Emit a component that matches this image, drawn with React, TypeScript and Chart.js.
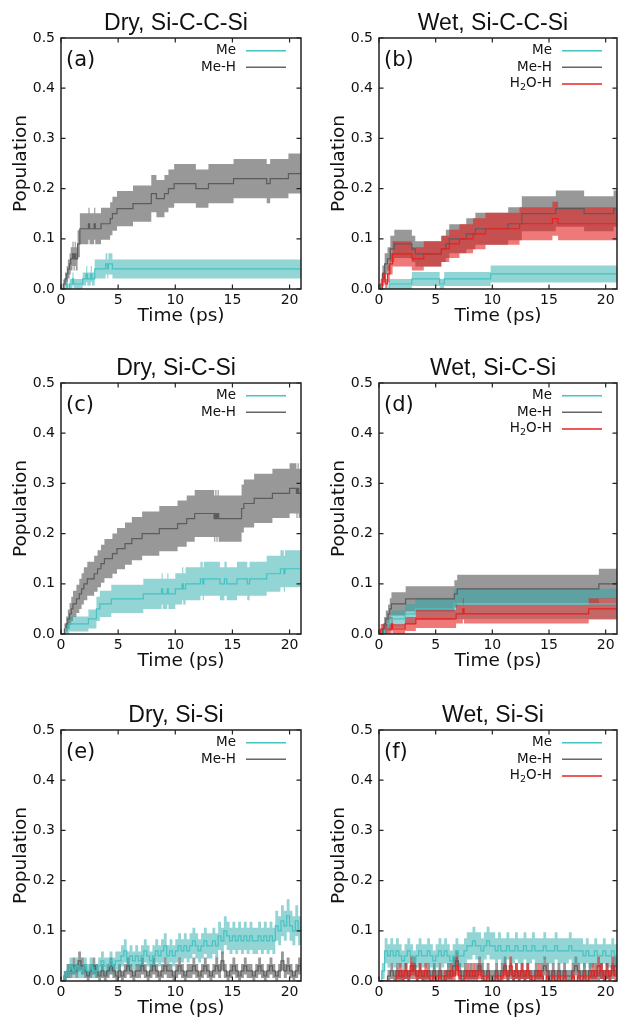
import React, { useEffect, useRef } from 'react';
import { Chart, registerables } from 'chart.js';

Chart.register(...registerables);

// ---------- axes ----------
const X_TICKS = [0, 5, 10, 15, 20];
const Y_TICKS = [0, 0.1, 0.2, 0.3, 0.4, 0.5];
const X_MAX = 21;
const Y_MAX = 0.5;

// ---------- (a) Dry, Si-C-C-Si ----------
const A_ME_T = [0, 0.45, 0.6, 0.75, 1.0, 1.1, 1.9, 2.2, 2.3, 2.6, 2.7, 2.95, 3.9, 4.05, 4.15, 4.5, 21];
const A_ME_V = [0, 0.01, 0, 0.01, 0.02, 0.01, 0.02, 0.03, 0.02, 0.03, 0.02, 0.04, 0.05, 0.04, 0.05, 0.04, 0.04];
const A_ME_E = [0, 0.01, 0, 0.01, 0.013, 0.01, 0.013, 0.016, 0.013, 0.016, 0.013, 0.019, 0.021, 0.019, 0.021, 0.019, 0.019];

const A_MEH_T = [0, 0.2, 0.35, 0.5, 0.6, 0.75, 0.85, 1.0, 1.1, 1.2, 1.3, 1.45, 1.65, 2.4, 2.5, 2.9, 3.0, 3.5, 4.3, 4.5, 4.9, 6.3, 7.9, 8.35, 9.05, 9.4, 9.9, 11.8, 12.9, 15.1, 18.0, 18.3, 19.9, 21];
const A_MEH_V = [0, 0.01, 0.02, 0.03, 0.04, 0.05, 0.06, 0.07, 0.06, 0.07, 0.06, 0.09, 0.12, 0.13, 0.12, 0.13, 0.12, 0.13, 0.14, 0.15, 0.16, 0.17, 0.19, 0.18, 0.19, 0.2, 0.21, 0.2, 0.21, 0.22, 0.21, 0.22, 0.23, 0.23];
const A_MEH_E = [0, 0.009, 0.013, 0.016, 0.019, 0.021, 0.023, 0.024, 0.023, 0.024, 0.023, 0.027, 0.031, 0.032, 0.031, 0.032, 0.031, 0.032, 0.033, 0.034, 0.035, 0.036, 0.037, 0.037, 0.037, 0.038, 0.039, 0.038, 0.039, 0.039, 0.039, 0.039, 0.04, 0.04];

// ---------- (b) Wet, Si-C-C-Si ----------
const B_ME_T = [0, 0.9, 2.9, 5.35, 5.75, 9.85, 21];
const B_ME_V = [0, 0.01, 0.02, 0.01, 0.02, 0.03, 0.03];
const B_ME_E = [0, 0.01, 0.014, 0.01, 0.014, 0.017, 0.017];

const B_MEH_T = [0, 0.15, 0.3, 0.5, 0.75, 1.0, 1.35, 2.9, 3.2, 5.5, 5.9, 6.2, 7.7, 8.5, 11.4, 12.6, 15.6, 18.1, 20.7, 21];
const B_MEH_V = [0, 0.01, 0.03, 0.05, 0.06, 0.08, 0.09, 0.08, 0.07, 0.08, 0.09, 0.1, 0.11, 0.12, 0.13, 0.15, 0.16, 0.15, 0.16, 0.16];
const B_MEH_E = [0, 0.01, 0.017, 0.021, 0.023, 0.026, 0.028, 0.026, 0.025, 0.026, 0.028, 0.029, 0.031, 0.032, 0.033, 0.035, 0.036, 0.035, 0.036, 0.036];

const B_H2O_T = [0, 0.3, 0.45, 0.55, 0.75, 0.95, 1.2, 2.9, 3.95, 5.5, 6.2, 7.1, 8.3, 9.4, 12.4, 15.3, 15.8, 21];
const B_H2O_V = [0, 0.02, 0.03, 0.01, 0.03, 0.05, 0.07, 0.06, 0.07, 0.08, 0.09, 0.1, 0.11, 0.12, 0.13, 0.14, 0.13, 0.13];
const B_H2O_E = [0, 0.014, 0.017, 0.01, 0.017, 0.021, 0.025, 0.023, 0.025, 0.026, 0.028, 0.029, 0.031, 0.032, 0.033, 0.034, 0.033, 0.033];

// ---------- (c) Dry, Si-C-Si ----------
const C_ME_T = [0, 0.4, 0.7, 2.4, 3.1, 3.4, 4.4, 7.2, 8.8, 8.9, 9.3, 9.4, 10.0, 10.6, 10.7, 10.9, 12.2, 12.4, 12.5, 13.9, 14.3, 14.5, 15.4, 16.3, 16.5, 18.0, 19.2, 19.5, 19.6, 21];
const C_ME_V = [0, 0.01, 0.02, 0.03, 0.05, 0.06, 0.07, 0.08, 0.09, 0.08, 0.09, 0.08, 0.09, 0.1, 0.09, 0.1, 0.11, 0.1, 0.11, 0.1, 0.11, 0.1, 0.11, 0.1, 0.11, 0.12, 0.13, 0.12, 0.13, 0.13];
const C_ME_E = [0, 0.011, 0.015, 0.019, 0.024, 0.026, 0.028, 0.03, 0.031, 0.03, 0.031, 0.03, 0.031, 0.033, 0.031, 0.033, 0.034, 0.033, 0.034, 0.033, 0.034, 0.033, 0.034, 0.033, 0.034, 0.036, 0.037, 0.036, 0.037, 0.037];

const C_MEH_T = [0, 0.3, 0.45, 0.6, 0.75, 0.9, 1.05, 1.35, 1.6, 1.8, 2.0, 2.3, 2.9, 3.2, 3.5, 3.8, 4.5, 4.9, 5.6, 6.2, 7.1, 8.6, 10.2, 11.0, 11.7, 13.4, 13.5, 13.6, 13.7, 13.8, 15.8, 16.0, 16.9, 18.5, 20.0, 20.6, 20.7, 20.8, 21];
const C_MEH_V = [0, 0.01, 0.02, 0.03, 0.04, 0.05, 0.06, 0.07, 0.08, 0.09, 0.1, 0.11, 0.12, 0.13, 0.14, 0.15, 0.16, 0.17, 0.18, 0.19, 0.2, 0.21, 0.22, 0.23, 0.24, 0.23, 0.24, 0.23, 0.24, 0.23, 0.25, 0.26, 0.27, 0.28, 0.29, 0.28, 0.29, 0.28, 0.28];
const C_MEH_E = [0, 0.011, 0.015, 0.019, 0.022, 0.024, 0.026, 0.028, 0.03, 0.031, 0.033, 0.034, 0.036, 0.037, 0.038, 0.039, 0.04, 0.041, 0.042, 0.043, 0.044, 0.045, 0.046, 0.046, 0.047, 0.046, 0.047, 0.046, 0.047, 0.046, 0.048, 0.048, 0.049, 0.049, 0.05, 0.049, 0.05, 0.049, 0.049];

// ---------- (d) Wet, Si-C-Si ----------
const D_ME_T = [0, 0.5, 0.8, 1.1, 2.3, 3.2, 6.6, 21];
const D_ME_V = [0, 0.01, 0.02, 0.03, 0.04, 0.05, 0.06, 0.06];
const D_ME_E = [0, 0.01, 0.014, 0.017, 0.02, 0.022, 0.03, 0.03];

const D_MEH_T = [0, 0.3, 0.45, 0.6, 0.8, 0.95, 1.1, 2.35, 6.65, 6.9, 19.4, 21];
const D_MEH_V = [0, 0.01, 0.02, 0.03, 0.04, 0.05, 0.06, 0.07, 0.08, 0.09, 0.1, 0.1];
const D_MEH_E = [0, 0.01, 0.014, 0.017, 0.019, 0.021, 0.023, 0.025, 0.027, 0.028, 0.03, 0.03];

const D_H2O_T = [0, 0.15, 1.1, 1.2, 2.3, 3.25, 6.8, 7.4, 7.5, 18.5, 21];
const D_H2O_V = [0, 0.01, 0.02, 0.01, 0.02, 0.03, 0.04, 0.05, 0.04, 0.05, 0.05];
const D_H2O_E = [0, 0.01, 0.014, 0.01, 0.014, 0.018, 0.019, 0.021, 0.019, 0.021, 0.021];

// ---------- (e), (f): sampled every 0.25 ps ----------
const NOISY_DT = 0.25;

const E_ME_V = [
  0, 0.01, 0.02, 0.03, 0.02, 0.03, 0.02, 0.02, 0.03, 0.02,
  0.03, 0.02, 0.02, 0.03, 0.04, 0.03, 0.03, 0.04, 0.03, 0.04,
  0.04, 0.05, 0.06, 0.04, 0.05, 0.04, 0.05, 0.04, 0.05, 0.06,
  0.05, 0.04, 0.05, 0.06, 0.05, 0.06, 0.07, 0.05, 0.06, 0.05,
  0.06, 0.07, 0.06, 0.07, 0.06, 0.07, 0.08, 0.07, 0.06, 0.07,
  0.08, 0.07, 0.07, 0.08, 0.07, 0.09, 0.08, 0.1, 0.09, 0.08,
  0.09, 0.08, 0.09, 0.08, 0.09, 0.08, 0.09, 0.08, 0.08, 0.09,
  0.08, 0.09, 0.08, 0.09, 0.08, 0.11, 0.1, 0.12, 0.11, 0.13,
  0.11, 0.1, 0.12, 0.1, 0.11,
];
const E_MEH_V = [
  0, 0.01, 0.02, 0.02, 0.03, 0.02, 0.04, 0.03, 0.02, 0.01,
  0.02, 0.03, 0.02, 0.01, 0.02, 0.01, 0.02, 0.03, 0.02, 0.01,
  0.02, 0.01, 0.02, 0.03, 0.02, 0.01, 0.02, 0.02, 0.03, 0.02,
  0.01, 0.02, 0.03, 0.02, 0.01, 0.02, 0.03, 0.02, 0.02, 0.01,
  0.02, 0.03, 0.02, 0.01, 0.02, 0.02, 0.03, 0.02, 0.01, 0.02,
  0.03, 0.02, 0.01, 0.02, 0.03, 0.02, 0.04, 0.02, 0.01, 0.02,
  0.03, 0.02, 0.01, 0.02, 0.03, 0.02, 0.02, 0.01, 0.02, 0.03,
  0.02, 0.01, 0.02, 0.03, 0.02, 0.01, 0.02, 0.04, 0.02, 0.03,
  0.02, 0.01, 0.02, 0.03, 0.02,
];
// half-width of the band for each population level 0.00, 0.01, 0.02, ...
const E_ERR_BY_LEVEL = [0, 0.01, 0.014, 0.017, 0.019, 0.021, 0.023, 0.025, 0.026, 0.028, 0.029, 0.03, 0.031, 0.033];

const F_ME_V = [
  0, 0.02, 0.06, 0.05, 0.06, 0.05, 0.06, 0.05, 0.04, 0.05,
  0.06, 0.05, 0.04, 0.05, 0.06, 0.05, 0.05, 0.06, 0.05, 0.04,
  0.05, 0.06, 0.05, 0.06, 0.05, 0.04, 0.05, 0.06, 0.05, 0.05,
  0.06, 0.07, 0.07, 0.08, 0.07, 0.07, 0.06, 0.07, 0.08, 0.07,
  0.07, 0.06, 0.07, 0.06, 0.06, 0.07, 0.06, 0.06, 0.07, 0.06,
  0.06, 0.07, 0.06, 0.06, 0.07, 0.06, 0.06, 0.06, 0.07, 0.06,
  0.06, 0.06, 0.07, 0.06, 0.06, 0.06, 0.06, 0.07, 0.06, 0.06,
  0.06, 0.06, 0.05, 0.06, 0.05, 0.05, 0.06, 0.05, 0.05, 0.06,
  0.05, 0.05, 0.06, 0.05, 0.05,
];
const F_MEH_V = [
  0, 0, 0, 0.01, 0.02, 0.01, 0.02, 0.01, 0.01, 0.02,
  0.01, 0.02, 0.03, 0.01, 0.02, 0.01, 0.01, 0.02, 0.01, 0.02,
  0.01, 0.02, 0.01, 0.01, 0.02, 0.01, 0.03, 0.04, 0.02, 0.01,
  0.02, 0.01, 0.02, 0.01, 0.02, 0.03, 0.02, 0.01, 0.02, 0.01,
  0.01, 0.02, 0.01, 0.02, 0.03, 0.01, 0.02, 0.01, 0.02, 0.01,
  0.02, 0.01, 0.02, 0.01, 0.01, 0.02, 0.01, 0.02, 0.03, 0.02,
  0.01, 0.02, 0.01, 0.02, 0.01, 0.02, 0.01, 0.01, 0.02, 0.03,
  0.02, 0.01, 0.02, 0.01, 0.02, 0.01, 0.02, 0.01, 0.02, 0.01,
  0.02, 0.01, 0.02, 0.03, 0.02,
];
const F_H2O_V = [
  0, 0, 0, 0, 0, 0, 0.01, 0.02, 0.01, 0.02,
  0.01, 0.03, 0.02, 0.01, 0.02, 0.01, 0.02, 0.01, 0, 0.01,
  0, 0.01, 0, 0.01, 0.01, 0.02, 0.01, 0.03, 0.01, 0,
  0.01, 0.02, 0.01, 0.02, 0.01, 0.02, 0.01, 0, 0.01, 0,
  0, 0.01, 0, 0.01, 0.02, 0.01, 0.03, 0.01, 0.02, 0.01,
  0.02, 0.01, 0.02, 0.01, 0, 0.01, 0.02, 0.01, 0, 0.01,
  0, 0.01, 0, 0.01, 0, 0.01, 0, 0, 0.01, 0,
  0.01, 0, 0.01, 0, 0.01, 0.02, 0.01, 0.03, 0.02, 0.01,
  0.02, 0.01, 0.03, 0.01, 0.02,
];
const F_ERR_BY_LEVEL = [0, 0.012, 0.016, 0.019, 0.021, 0.023, 0.025, 0.027, 0.028];

// ---------- styles ----------
type Key = 'me' | 'meh' | 'h2o';
const STYLE: Record<Key, { line: string; band: string; legend: string; bandOrder: number; lineOrder: number }> = {
  meh: { line: '#5c5c5c', band: 'rgba(50,50,50,0.5)', legend: '#666666', bandOrder: 6, lineOrder: 3 },
  me: { line: '#45c3c3', band: 'rgba(40,170,170,0.5)', legend: '#45c3c3', bandOrder: 5, lineOrder: 2 },
  h2o: { line: '#e82222', band: 'rgba(228,30,30,0.6)', legend: '#e82222', bandOrder: 4, lineOrder: 1 },
};
const TEXT = '#111111';
const FRAME = '#222222';

type Series = { key: Key; t: number[]; v: number[]; e: number[] };

const step = (key: Key, t: number[], v: number[], e: number[]): Series => ({ key, t, v, e });
const sampled = (key: Key, v: number[], errByLevel: number[]): Series => ({
  key,
  t: v.map((_, i) => i * NOISY_DT),
  v,
  e: v.map((x) => errByLevel[Math.round(x * 100)] ?? errByLevel[errByLevel.length - 1]),
});

type PanelCfg = { id: string; title: string; left: number; top: number; width: number; series: Series[] };

const PLOT_H = 251;

const PANELS: PanelCfg[] = [
  { id: 'a', title: 'Dry, Si-C-C-Si', left: 61, top: 38, width: 240,
    series: [step('me', A_ME_T, A_ME_V, A_ME_E), step('meh', A_MEH_T, A_MEH_V, A_MEH_E)] },
  { id: 'b', title: 'Wet, Si-C-C-Si', left: 379, top: 38, width: 238,
    series: [step('me', B_ME_T, B_ME_V, B_ME_E), step('meh', B_MEH_T, B_MEH_V, B_MEH_E), step('h2o', B_H2O_T, B_H2O_V, B_H2O_E)] },
  { id: 'c', title: 'Dry, Si-C-Si', left: 61, top: 383, width: 240,
    series: [step('me', C_ME_T, C_ME_V, C_ME_E), step('meh', C_MEH_T, C_MEH_V, C_MEH_E)] },
  { id: 'd', title: 'Wet, Si-C-Si', left: 379, top: 383, width: 238,
    series: [step('me', D_ME_T, D_ME_V, D_ME_E), step('meh', D_MEH_T, D_MEH_V, D_MEH_E), step('h2o', D_H2O_T, D_H2O_V, D_H2O_E)] },
  { id: 'e', title: 'Dry, Si-Si', left: 61, top: 730, width: 240,
    series: [sampled('me', E_ME_V, E_ERR_BY_LEVEL), sampled('meh', E_MEH_V, E_ERR_BY_LEVEL)] },
  { id: 'f', title: 'Wet, Si-Si', left: 379, top: 730, width: 238,
    series: [sampled('me', F_ME_V, F_ERR_BY_LEVEL), sampled('meh', F_MEH_V, F_ERR_BY_LEVEL), sampled('h2o', F_H2O_V, F_ERR_BY_LEVEL)] },
];

// canvas margins around the plot area
const M_LEFT = 61;
const M_TOP = 38;
const M_RIGHT = 3;
const M_BOTTOM = 40;

function buildDatasets(series: Series[]) {
  const ds: any[] = [];
  for (const s of series) {
    const st = STYLE[s.key];
    const hi = s.t.map((x, i) => ({ x, y: Math.min(Y_MAX, s.v[i] + s.e[i]) }));
    const lo = s.t.map((x, i) => ({ x, y: Math.max(0, s.v[i] - s.e[i]) }));
    ds.push({
      data: hi, stepped: true, pointRadius: 0, borderWidth: 0, borderColor: 'transparent',
      backgroundColor: st.band, fill: '+1', order: st.bandOrder,
    });
    ds.push({
      data: lo, stepped: true, pointRadius: 0, borderWidth: 0, borderColor: 'transparent',
      backgroundColor: 'transparent', fill: false, order: st.bandOrder,
    });
  }
  for (const s of series) {
    const st = STYLE[s.key];
    ds.push({
      data: s.t.map((x, i) => ({ x, y: s.v[i] })), stepped: true, pointRadius: 0,
      borderWidth: 1.2, borderColor: st.line, fill: false, order: st.lineOrder,
    });
  }
  return ds;
}

function decorPlugin(p: PanelCfg) {
  return {
    id: 'decor_' + p.id,
    afterDraw(chart: any) {
      const { ctx, chartArea } = chart;
      const { left, right, top, bottom } = chartArea;
      const xs = chart.scales.x;
      const ys = chart.scales.y;
      const TL = 4.5;
      ctx.save();
      // frame
      ctx.strokeStyle = FRAME;
      ctx.lineWidth = 1.5;
      ctx.strokeRect(left, top, right - left, bottom - top);
      // inward ticks on all sides
      ctx.lineWidth = 1.2;
      ctx.beginPath();
      for (const v of X_TICKS) {
        const x = xs.getPixelForValue(v);
        ctx.moveTo(x, bottom); ctx.lineTo(x, bottom - TL);
        ctx.moveTo(x, top); ctx.lineTo(x, top + TL);
      }
      for (const v of Y_TICKS) {
        const y = ys.getPixelForValue(v);
        ctx.moveTo(left, y); ctx.lineTo(left + TL, y);
        ctx.moveTo(right, y); ctx.lineTo(right - TL, y);
      }
      ctx.stroke();

      ctx.fillStyle = TEXT;
      // title
      ctx.font = '23px "Liberation Sans", Arial, sans-serif';
      ctx.textAlign = 'center';
      ctx.textBaseline = 'alphabetic';
      ctx.fillText(p.title, (left + right) / 2 - 5, top - 8);
      // panel letter
      ctx.font = '21px "DejaVu Sans", sans-serif';
      ctx.textAlign = 'left';
      ctx.fillText('(' + p.id + ')', left + 5, top + 28);
      // legend
      const base = '13.5px "DejaVu Sans", sans-serif';
      const sub = '9.5px "DejaVu Sans", sans-serif';
      ctx.textBaseline = 'middle';
      p.series.forEach((s, i) => {
        const y = top + 12.7 + i * 16.6;
        const tx = right - 65;
        ctx.fillStyle = TEXT;
        if (s.key === 'h2o') {
          ctx.font = base;
          const wH = ctx.measureText('H').width;
          const wO = ctx.measureText('O-H').width;
          ctx.font = sub;
          const w2 = ctx.measureText('2').width;
          let x0 = tx - (wH + w2 + wO);
          ctx.textAlign = 'left';
          ctx.font = base;
          ctx.fillText('H', x0, y);
          x0 += wH;
          ctx.font = sub;
          ctx.fillText('2', x0, y + 4);
          x0 += w2;
          ctx.font = base;
          ctx.fillText('O-H', x0, y);
        } else {
          ctx.font = base;
          ctx.textAlign = 'right';
          ctx.fillText(s.key === 'me' ? 'Me' : 'Me-H', tx, y);
        }
        ctx.strokeStyle = STYLE[s.key].legend;
        ctx.lineWidth = 1.5;
        ctx.beginPath();
        ctx.moveTo(right - 55, y);
        ctx.lineTo(right - 15, y);
        ctx.stroke();
      });
      // axis titles
      ctx.fillStyle = TEXT;
      ctx.font = '18.5px "DejaVu Sans", sans-serif';
      ctx.textAlign = 'center';
      ctx.textBaseline = 'alphabetic';
      ctx.fillText('Time (ps)', (left + right) / 2, bottom + 32);
      ctx.translate(left - 35, (top + bottom) / 2);
      ctx.rotate(-Math.PI / 2);
      ctx.fillText('Population', 0, 0);
      ctx.restore();
    },
  };
}

function Panel({ p }: { p: PanelCfg }) {
  const ref = useRef<HTMLCanvasElement>(null);
  const cw = M_LEFT + p.width + M_RIGHT;
  const chh = M_TOP + PLOT_H + M_BOTTOM;
  useEffect(() => {
    const tickFont = { family: '"DejaVu Sans", sans-serif', size: 14 };
    const chart = new Chart(ref.current as HTMLCanvasElement, {
      type: 'line',
      data: { datasets: buildDatasets(p.series) },
      options: {
        animation: false,
        responsive: false,
        events: [],
        layout: { padding: { left: 0, top: M_TOP, right: M_RIGHT, bottom: 0 } },
        plugins: { legend: { display: false }, tooltip: { enabled: false }, title: { display: false } },
        scales: {
          x: {
            type: 'linear', min: 0, max: X_MAX,
            afterBuildTicks: (s: any) => { s.ticks = X_TICKS.map((value) => ({ value })); },
            afterFit: (s: any) => { s.height = M_BOTTOM; },
            grid: { display: false, drawTicks: false },
            border: { display: false },
            ticks: { font: tickFont, color: TEXT, padding: 3, maxRotation: 0, autoSkip: false, callback: (v: any) => String(v) },
          },
          y: {
            type: 'linear', min: 0, max: Y_MAX,
            afterBuildTicks: (s: any) => { s.ticks = Y_TICKS.map((value) => ({ value })); },
            afterFit: (s: any) => { s.width = M_LEFT; },
            grid: { display: false, drawTicks: false },
            border: { display: false },
            ticks: { font: tickFont, color: TEXT, padding: 6, autoSkip: false, callback: (v: any) => Number(v).toFixed(1) },
          },
        },
      } as any,
      plugins: [decorPlugin(p)],
    });
    return () => chart.destroy();
  }, []);
  return (
    <canvas
      ref={ref}
      width={cw}
      height={chh}
      style={{ position: 'absolute', left: p.left - M_LEFT, top: p.top - M_TOP, width: cw, height: chh }}
    />
  );
}

export default function App() {
  return (
    <div style={{ position: 'absolute', left: 0, top: 0, width: 620, height: 1019, background: '#ffffff', overflow: 'hidden' }}>
      {PANELS.map((p) => (
        <Panel key={p.id} p={p} />
      ))}
    </div>
  );
}
